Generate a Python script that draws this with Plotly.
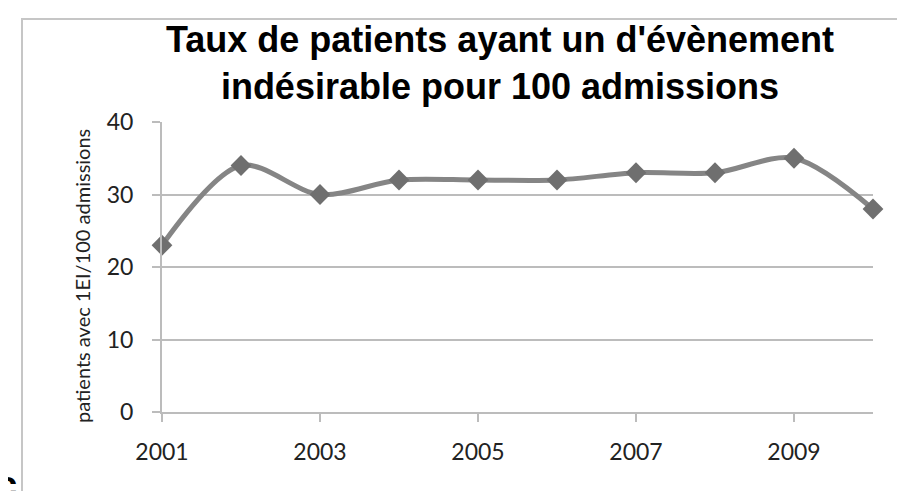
import plotly.graph_objects as go

# data
years = [2001, 2002, 2003, 2004, 2005, 2006, 2007, 2008, 2009, 2010]
taux = [23, 34, 30, 32, 32, 32, 33, 33, 35, 28]
y_ticks = [0, 10, 20, 30, 40]
x_ticks = [2001, 2003, 2005, 2007, 2009]

title_text = "Taux de patients ayant un d'évènement<br>indésirable pour 100 admissions"
y_title = "patients avec 1EI/100 admissions"

W, H = 905, 491
L, R, T, B = 154, 865, 114, 404  # plot area in pixels
pw, ph = R - L, B - T


def px_x(x):
    return (x - L) / pw


def px_y(y):
    return (B - y) / ph


fig = go.Figure()

fig.add_trace(
    go.Scatter(
        x=years,
        y=taux,
        mode="lines+markers",
        line=dict(color="#858585", width=5, shape="spline", smoothing=0.9),
        marker=dict(symbol="diamond", size=16, color="#6f6f6f"),
        cliponaxis=False,
        showlegend=False,
    )
)

grid = "#bcbcbc"
fig.update_layout(
    width=W,
    height=H,
    paper_bgcolor="white",
    plot_bgcolor="white",
    margin=dict(l=L, r=W - R, t=T, b=H - B),
    font=dict(family="Lato, sans-serif", color="#222222"),
    title=dict(
        text=title_text,
        font=dict(family="Liberation Sans, Arial, sans-serif", size=36, color="black", weight="bold"),
        xref="paper",
        x=px_x(492),
        xanchor="center",
        yref="container",
        y=1 - 44 / H,
        yanchor="top",
    ),
    xaxis=dict(
        range=[2001, 2010],
        tickmode="array",
        tickvals=x_ticks,
        ticktext=[str(v) for v in x_ticks],
        showgrid=False,
        zeroline=False,
        showline=True,
        linecolor=grid,
        linewidth=2,
        ticks="outside",
        ticklen=8,
        tickwidth=2,
        tickcolor=grid,
        ticklabelstandoff=10,
        tickfont=dict(size=23, color="#222222"),
    ),
    yaxis=dict(
        range=[0, 40],
        tickmode="array",
        tickvals=y_ticks,
        showgrid=True,
        gridcolor=grid,
        gridwidth=2,
        zeroline=False,
        showline=True,
        linecolor=grid,
        linewidth=2,
        ticks="outside",
        ticklen=8,
        tickwidth=2,
        tickcolor=grid,
        ticklabelstandoff=14,
        tickfont=dict(size=23, color="#222222"),
    ),
    annotations=[
        dict(
            text=y_title,
            xref="paper",
            yref="paper",
            x=px_x(74),
            y=px_y(268),
            textangle=-90,
            showarrow=False,
            xanchor="center",
            yanchor="middle",
            font=dict(family="Lato, sans-serif", size=20, color="#222222"),
        ),
        dict(
            text="<b>c</b>",
            xref="paper",
            yref="paper",
            x=px_x(11),
            y=px_y(500),
            showarrow=False,
            xanchor="right",
            yanchor="bottom",
            font=dict(family="Liberation Sans, Arial, sans-serif", size=38, color="black"),
        ),
    ],
    shapes=[
        dict(
            type="rect",
            xref="paper",
            yref="paper",
            x0=px_x(14),
            x1=px_x(W + 20),
            y0=px_y(490),
            y1=px_y(11),
            line=dict(color="#c6c6c6", width=2),
            fillcolor="rgba(0,0,0,0)",
            layer="below",
        )
    ],
)

fig.write_html("out.html")
